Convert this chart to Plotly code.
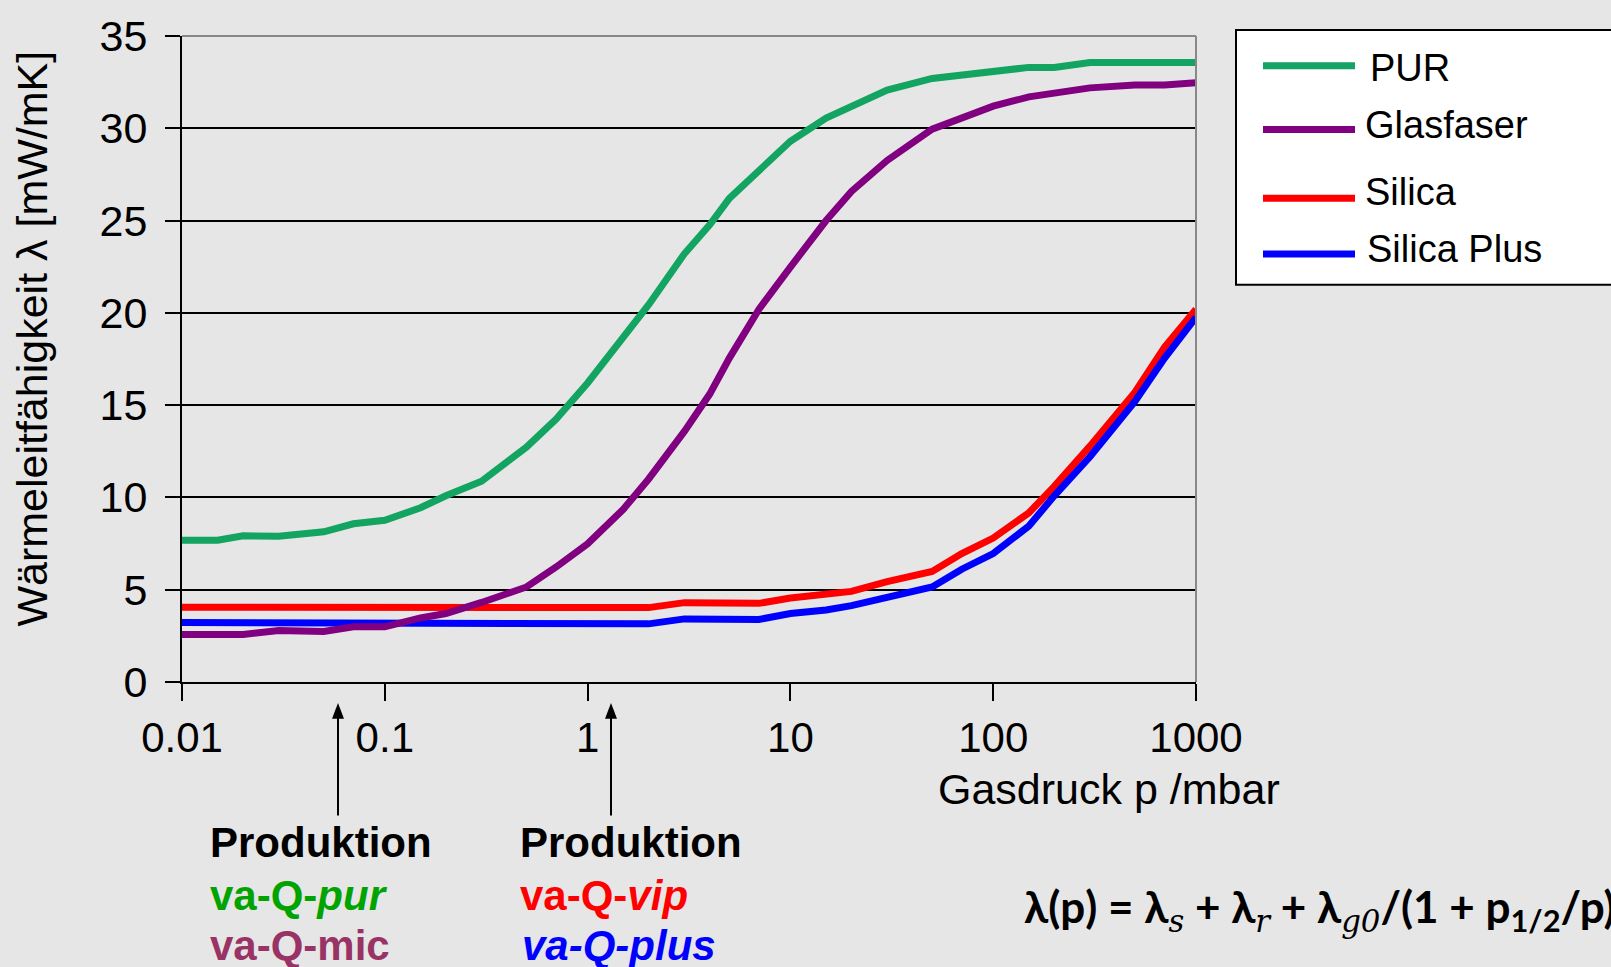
import plotly.graph_objects as go

# ---------------- data ----------------
pressure = [0.01, 0.015, 0.02, 0.03, 0.05, 0.07, 0.1, 0.15, 0.2, 0.3, 0.5, 0.7,
            1, 1.5, 2, 3, 4, 5, 7, 10, 15, 20, 30, 50, 70, 100, 150, 200, 300,
            500, 700, 1000]

pur = [7.68, 7.68, 7.92, 7.9, 8.14, 8.57, 8.76, 9.44, 10.09, 10.88, 12.73, 14.25,
       16.2, 18.75, 20.44, 23.2, 24.77, 26.2, 27.7, 29.3, 30.55, 31.15, 32.07,
       32.7, 32.9, 33.1, 33.3, 33.3, 33.56, 33.56, 33.56, 33.56]

glasfaser = [2.58, 2.58, 2.58, 2.79, 2.74, 2.99, 2.99, 3.47, 3.71, 4.31, 5.15, 6.23,
             7.49, 9.36, 11.0, 13.58, 15.6, 17.55, 20.2, 22.48, 25.0, 26.58, 28.26,
             29.95, 30.6, 31.2, 31.7, 31.92, 32.19, 32.35, 32.35, 32.47]

silica = [4.05, 4.05, 4.06, 4.06, 4.06, 4.05, 4.05, 4.05, 4.05, 4.05, 4.06, 4.05,
          4.05, 4.04, 4.03, 4.3, 4.28, 4.26, 4.26, 4.55, 4.72, 4.91, 5.44, 5.99,
          6.96, 7.8, 9.17, 10.6, 12.78, 15.7, 18.15, 20.2]

silica_plus = [3.22, 3.22, 3.2, 3.2, 3.2, 3.22, 3.22, 3.22, 3.22, 3.21, 3.2, 3.2,
               3.2, 3.18, 3.15, 3.42, 3.41, 3.39, 3.39, 3.71, 3.9, 4.14, 4.55, 5.15,
               6.11, 6.96, 8.45, 10.09, 12.2, 15.2, 17.55, 19.76]

series_names = ["PUR", "Glasfaser", "Silica", "Silica Plus"]
series_colors = ["#12a460", "#800080", "#ff0000", "#0000ff"]

x_tickvals = [0.01, 0.1, 1, 10, 100, 1000]
x_ticktext = ["0.01", "0.1", "1", "10", "100", "1000"]
y_tickvals = [0, 5, 10, 15, 20, 25, 30, 35]

y_title = "Wärmeleitfähigkeit λ [mW/mK]"
x_title = "Gasdruck p /mbar"

# ---------------- geometry helpers (pixel -> paper) ----------------
W, H = 1611, 967
L, R, T, B = 182, 415, 33, 285
PW, PH = W - L - R, H - T - B


def px(x):
    return (x - L) / PW


def py(y):
    return (H - B - y) / PH


BG = "#e6e6e6"
FONT = "Liberation Sans, Arial, sans-serif"

fig = go.Figure()

data_map = {"PUR": pur, "Glasfaser": glasfaser, "Silica": silica,
            "Silica Plus": silica_plus}
draw_order = ["Silica", "Silica Plus", "Glasfaser", "PUR"]
for name in draw_order:
    c = series_colors[series_names.index(name)]
    fig.add_trace(go.Scatter(x=pressure, y=data_map[name], mode="lines",
                             name=name, line=dict(color=c, width=7),
                             showlegend=False))

fig.update_layout(
    width=W, height=H,
    margin=dict(l=L, r=R, t=T, b=B),
    paper_bgcolor=BG, plot_bgcolor=BG,
    font=dict(family=FONT, size=40, color="black"),
    showlegend=False,
)

fig.update_xaxes(
    type="log", range=[-2, 3],
    tickvals=x_tickvals, ticktext=x_ticktext,
    ticks="outside", ticklen=17, tickwidth=2, tickcolor="black",
    showline=True, linecolor="black", linewidth=2,
    showgrid=False, zeroline=False,
    tickfont=dict(family=FONT, size=42, color="black"),
    ticklabelstandoff=1,
)
fig.update_yaxes(
    range=[0, 35], tickvals=y_tickvals,
    ticks="outside", ticklen=15, tickwidth=2, tickcolor="black",
    showline=True, linecolor="black", linewidth=2,
    showgrid=True, gridcolor="black", gridwidth=1.5,
    zeroline=False,
    tickfont=dict(family=FONT, size=43, color="black"),
    ticklabelstandoff=9,
)

shapes = []
# grey top and right borders
shapes.append(dict(type="line", xref="paper", yref="paper", x0=0, x1=1, y0=1, y1=1,
                   line=dict(color="#888888", width=2)))
shapes.append(dict(type="line", xref="paper", yref="paper", x0=1, x1=1, y0=0, y1=1,
                   line=dict(color="#888888", width=2)))

# legend box
shapes.append(dict(type="rect", xref="paper", yref="paper",
                   x0=px(1236), x1=px(1625), y0=py(283), y1=py(27),
                   fillcolor="white", line=dict(color="black", width=2)))
legend_line_y = [63, 127, 196, 252]
legend_text_y = [65, 122, 190, 247]
legend_text_x = [1368, 1363, 1363, 1365]
annotations = []
for i, name in enumerate(series_names):
    shapes.append(dict(type="line", xref="paper", yref="paper",
                       x0=px(1263), x1=px(1355),
                       y0=py(legend_line_y[i]), y1=py(legend_line_y[i]),
                       line=dict(color=series_colors[i], width=7)))
    annotations.append(dict(xref="paper", yref="paper", x=px(legend_text_x[i]),
                            y=py(legend_text_y[i]), text=name, showarrow=False,
                            xanchor="left", yanchor="middle",
                            font=dict(family=FONT, size=38, color="black")))

# production arrows
for ax_px in [338, 611]:
    shapes.append(dict(type="line", xref="paper", yref="paper",
                       x0=px(ax_px), x1=px(ax_px), y0=py(816), y1=py(714),
                       line=dict(color="black", width=2)))
    shapes.append(dict(type="path", xref="paper", yref="paper",
                       path=f"M {px(ax_px)},{py(703)} L {px(ax_px - 6)},{py(719)} "
                            f"L {px(ax_px + 6)},{py(719)} Z",
                       fillcolor="black", line=dict(color="black", width=0)))

# axis titles
annotations.append(dict(xref="paper", yref="paper", x=px(32), y=py(337),
                        text=y_title, textangle=-90, showarrow=False,
                        xanchor="center", yanchor="middle",
                        font=dict(family=FONT, size=43, color="black")))
annotations.append(dict(xref="paper", yref="paper", x=px(1109), y=py(789),
                        text=x_title, showarrow=False,
                        xanchor="center", yanchor="middle",
                        font=dict(family=FONT, size=43, color="black")))

# production labels
prod_items = [
    (208, 843, "<b>Produktion</b>", "black"),
    (208, 896, "<b>va-Q-<i>pur</i></b>", "#00a300"),
    (208, 947, "<b>va-Q-mic</b>", "#993366"),
    (518, 843, "<b>Produktion</b>", "black"),
    (518, 896, "<b>va-Q-<i>vip</i></b>", "#ff0000"),
    (520, 947, "<b><i>va-Q-plus</i></b>", "#0000ff"),
]
for xx, yy, txt, col in prod_items:
    annotations.append(dict(xref="paper", yref="paper", x=px(xx), y=py(yy),
                            text=txt, showarrow=False, xanchor="left",
                            yanchor="middle",
                            font=dict(family=FONT, size=42, color=col)))

# formula
serif = "font-family:'DejaVu Serif';font-weight:normal"
formula = ("<b>λ(p) = λ<sub><span style=\"" + serif + "\"><i>s</i></span></sub>"
           " + λ<sub><span style=\"" + serif + "\"><i>r</i></span></sub>"
           " + λ<sub><span style=\"" + serif + "\"><i>g0</i></span></sub>"
           "/(1 + p<sub>1/2</sub>/p)</b>")
annotations.append(dict(xref="paper", yref="paper", x=px(1022), y=py(911),
                        text=formula, showarrow=False, xanchor="left",
                        yanchor="middle",
                        font=dict(family="Lato, sans-serif", size=44, color="black")))

fig.update_layout(shapes=shapes, annotations=annotations)
fig.write_html("out.html",
               config={"displayModeBar": False},
               post_script="document.body.style.margin='0px';"
                           "document.body.style.overflow='hidden';")
